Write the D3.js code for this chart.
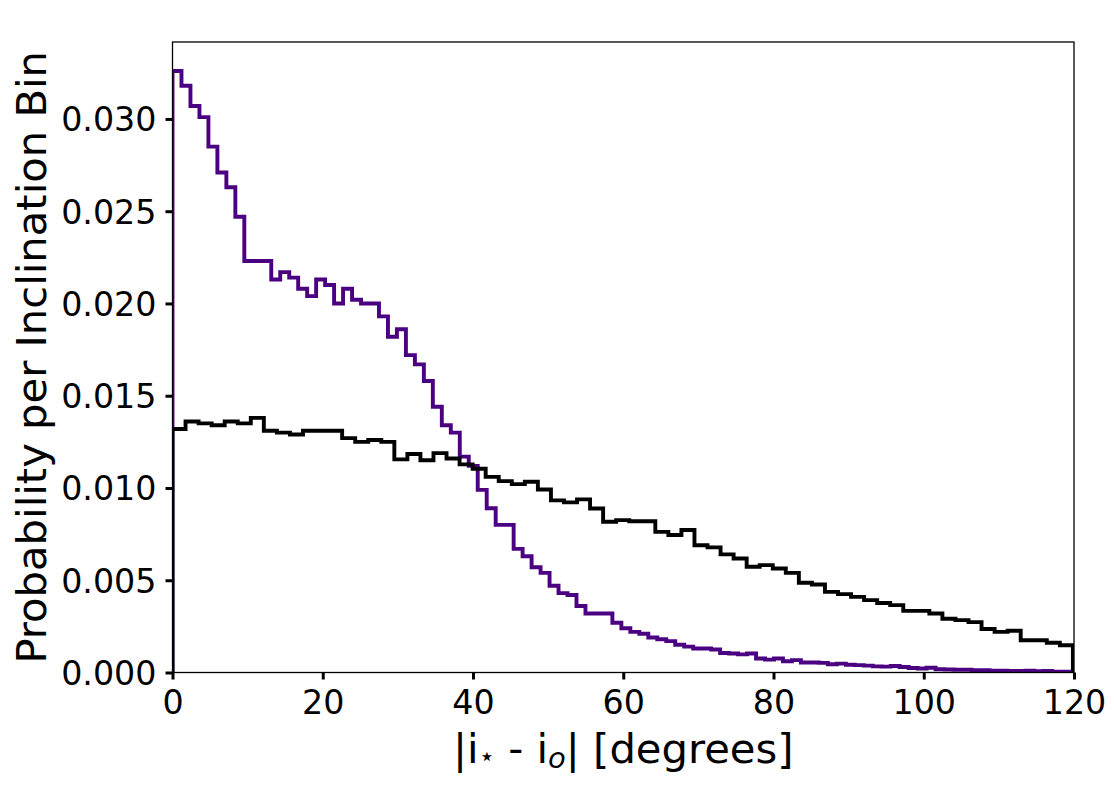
<!DOCTYPE html>
<html>
<head>
<meta charset="utf-8">
<script src="https://cdn.jsdelivr.net/npm/d3@7"></script>
<style>
  body { margin: 0; background: #fff; }
  text { font-family: "DejaVu Sans", sans-serif; fill: #000; }
</style>
</head>
<body>
<div class="chartContainer"></div>
<script>
// bin widths (degrees) for each histogram
var purpleBinWidth = 1.195
var blackBinWidth = 1.737

// probability per bin
var purpleVals = [
  0.0326, 0.0318, 0.0307, 0.0301, 0.0285, 0.0271, 0.0263, 0.0247, 0.0223, 0.0223,
  0.0223, 0.0213, 0.0217, 0.0214, 0.0208, 0.0204, 0.0213, 0.0210, 0.0200, 0.0208,
  0.0202, 0.0200, 0.0200, 0.0193, 0.0182, 0.0186, 0.0172, 0.0167, 0.0158, 0.0144,
  0.0134, 0.0130, 0.0117, 0.0112, 0.0099, 0.0089, 0.0080, 0.0080, 0.0067, 0.0063,
  0.0057, 0.0054, 0.0047, 0.0043, 0.0042, 0.0036, 0.0032, 0.0032, 0.0032, 0.0027,
  0.0024, 0.0022, 0.0021, 0.0019, 0.0018, 0.0017, 0.0015, 0.0014, 0.0013, 0.0013,
  0.00125, 0.00106, 0.00103, 0.00098, 0.00103, 0.00076, 0.0007, 0.00076, 0.00061, 0.00067,
  0.00054, 0.00054, 0.00052, 0.00045, 0.00048, 0.00042, 0.0004, 0.00037, 0.00033, 0.00032,
  0.00035, 0.0003, 0.00024, 0.00022, 0.00026, 0.00018, 0.00016, 0.00015, 0.00015, 0.00013,
  0.00012, 0.0001, 0.0001, 0.00008, 0.00008, 0.0001, 0.00007, 0.00008, 0.00005, 0.00005
]

var blackVals = [
  0.0132, 0.0136, 0.0135, 0.0134, 0.0136, 0.0135, 0.0138, 0.0131, 0.0130, 0.0129,
  0.0131, 0.0131, 0.0131, 0.0127, 0.0125, 0.0126, 0.0125, 0.01155, 0.01184, 0.0115,
  0.01189, 0.0116, 0.01128, 0.01104, 0.0106, 0.01037, 0.01021, 0.01034, 0.00992, 0.00933,
  0.00922, 0.00938, 0.00889, 0.00817, 0.00826, 0.0082, 0.0082, 0.00762, 0.00745, 0.00772,
  0.0069, 0.00678, 0.0064, 0.00618, 0.00573, 0.00582, 0.00564, 0.0054, 0.00486, 0.00477,
  0.00437, 0.00425, 0.0041, 0.00392, 0.00377, 0.00365, 0.00334, 0.00334, 0.0032, 0.00291,
  0.00284, 0.00273, 0.00236, 0.0022, 0.00226, 0.00175, 0.00175, 0.00161, 0.00148
]

var xTicks = [0, 20, 40, 60, 80, 100, 120]
var yTicks = [0, 0.005, 0.010, 0.015, 0.020, 0.025, 0.030]

var W = 1114, H = 787
var margin = {top: 42, right: 40, bottom: 114.5, left: 172.5}

var svg = d3.select('.chartContainer').append('svg')
        .attr('width', W)
        .attr('height', H)
        .attr('viewBox', [0, 0, W, H])

var x = d3.scaleLinear()
    .domain([0, 120])
    .range([margin.left, W - margin.right])

var y = d3.scaleLinear()
    .domain([0, 0.03417])
    .range([H - margin.bottom, margin.top])

// clip to the axes box, like matplotlib does
svg.append('clipPath').attr('id', 'plotClip')
    .append('rect')
    .attr('x', x(0)).attr('y', y(0.03417))
    .attr('width', x(120) - x(0)).attr('height', y(0) - y(0.03417))

// turn bin values into an outline like a step histogram
function stepPoints(vals, bw) {
    var pts = [[0, 0]]
    vals.forEach(function(v, i) {
        pts.push([i * bw, v])
        pts.push([(i + 1) * bw, v])
    })
    pts.push([vals.length * bw, 0])
    return pts
}

var line = d3.line()
    .x(d => x(d[0]))
    .y(d => y(d[1]))

var g = svg.append('g').attr('clip-path', 'url(#plotClip)')

g.append('path')
    .attr('d', line(stepPoints(purpleVals, purpleBinWidth)))
    .style('fill', 'none')
    .style('stroke', '#4b0082')
    .style('stroke-width', 3.9)
    .style('stroke-linejoin', 'miter')

g.append('path')
    .attr('d', line(stepPoints(blackVals, blackBinWidth)))
    .style('fill', 'none')
    .style('stroke', '#000')
    .style('stroke-width', 3.9)
    .style('stroke-linejoin', 'miter')

// frame on top of the lines
svg.append('rect')
    .attr('x', x(0)).attr('y', y(0.03417))
    .attr('width', x(120) - x(0))
    .attr('height', y(0) - y(0.03417))
    .style('fill', 'none')
    .style('stroke', '#000')
    .style('stroke-width', 1.3)

// axes
var xAxis = d3.axisBottom(x).tickValues(xTicks).tickSize(7).tickPadding(9).tickFormat(d3.format('d'))
var yAxis = d3.axisLeft(y).tickValues(yTicks).tickSize(7).tickPadding(9).tickFormat(d3.format('.3f'))

svg.append('g')
    .attr('transform', 'translate(0,' + y(0) + ')')
    .call(xAxis)
    .call(a => a.select('.domain').remove())
    .call(a => a.selectAll('line').style('stroke', '#000').style('stroke-width', 3))
    .call(a => a.selectAll('text').style('font-size', '33.3px').attr('dy', '0.78em'))

svg.append('g')
    .attr('transform', 'translate(' + x(0) + ',0)')
    .call(yAxis)
    .call(a => a.select('.domain').remove())
    .call(a => a.selectAll('line').style('stroke', '#000').style('stroke-width', 3))
    .call(a => a.selectAll('text').style('font-size', '33.3px').attr('dy', '0.36em'))

svg.selectAll('.tick text').style('font-family', '"DejaVu Sans", sans-serif').style('fill', '#000')

// axis labels
var xlab = svg.append('text')
    .attr('x', (x(0) + x(120)) / 2)
    .attr('y', 763)
    .attr('text-anchor', 'middle')
    .style('font-size', '41.7px')
xlab.append('tspan').text('|i')
xlab.append('tspan').text('\u22c6').style('font-size', '26px').attr('dy', 2)
xlab.append('tspan').text(' - i').attr('dy', -2)
xlab.append('tspan').text('o').style('font-size', '29px').style('font-style', 'italic').attr('dy', 5)
xlab.append('tspan').text('| [degrees]').attr('dy', -5)

svg.append('text')
    .attr('transform', 'translate(46,' + ((y(0) + y(0.03417)) / 2) + ') rotate(-90)')
    .attr('text-anchor', 'middle')
    .style('font-size', '41.7px')
    .text('Probability per Inclination Bin')
</script>
</body>
</html>
